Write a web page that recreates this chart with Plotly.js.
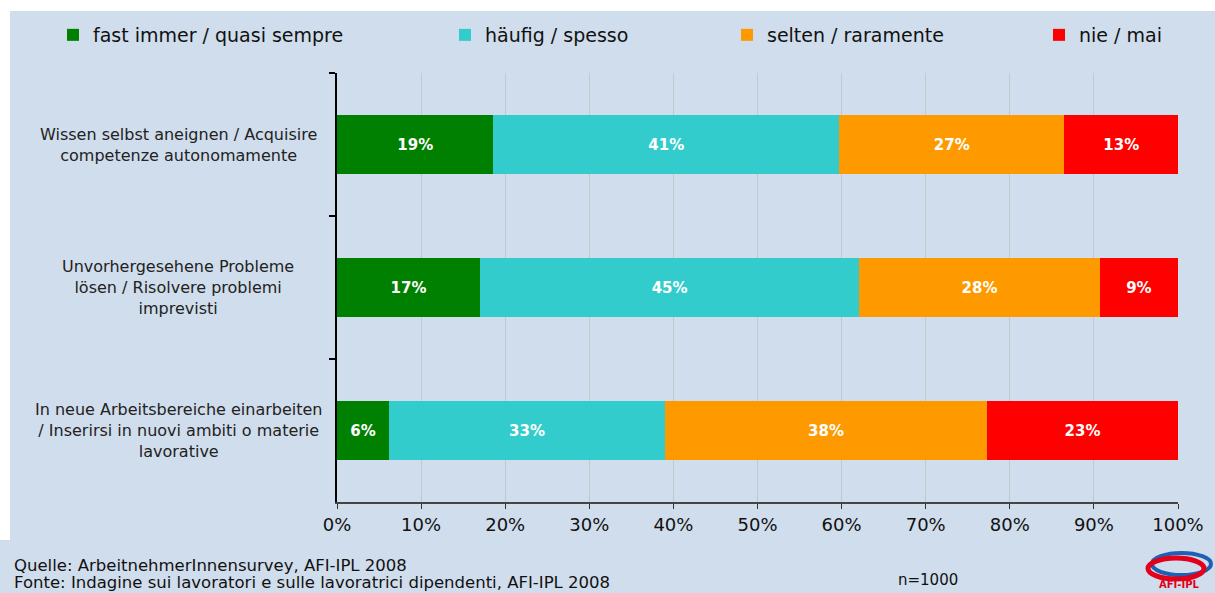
<!DOCTYPE html>
<html>
<head>
<meta charset="utf-8">
<script src="https://cdn.plot.ly/plotly-3.0.1.min.js"></script>
<style>
  html, body { margin: 0; padding: 0; background: #ffffff; }
  #chart { position: absolute; left: 0; top: 11px; width: 1215px; height: 582px; }
</style>
</head>
<body>
<div id="chart"></div>
<script>
// ---- data ----
const categories = [
  "Wissen selbst aneignen / Acquisire<br>competenze autonomamente",
  "Unvorhergesehene Probleme<br>lösen / Risolvere problemi<br>imprevisti",
  "In neue Arbeitsbereiche einarbeiten<br>/ Inserirsi in nuovi ambiti o materie<br>lavorative"
];
const seriesNames = [
  "fast immer / quasi sempre",
  "häufig / spesso",
  "selten / raramente",
  "nie / mai"
];
const fastImmer = [18.6, 17.0, 6.2];
const haeufig   = [41.1, 45.1, 32.8];
const selten    = [26.8, 28.6, 38.3];
const nie       = [13.5, 9.3, 22.7];
const fastImmerLabels = [19, 17, 6];
const haeufigLabels   = [41, 45, 33];
const seltenLabels    = [27, 28, 38];
const nieLabels       = [13, 9, 23];
const xTicks = [0, 10, 20, 30, 40, 50, 60, 70, 80, 90, 100];
const sourceLines = [
  "Quelle: ArbeitnehmerInnensurvey, AFI-IPL 2008",
  "Fonte: Indagine sui lavoratori e sulle lavoratrici dipendenti, AFI-IPL 2008"
];
const sampleNote = "n=1000";
const logoText = "AFI-IPL";

// ---- styles ----
const FONT = "DejaVu Sans, Arial, sans-serif";
const colors = ["#008000", "#33CCCC", "#FF9900", "#FF0000"];
const seriesValues = [fastImmer, haeufig, selten, nie];
const seriesLabels = [fastImmerLabels, haeufigLabels, seltenLabels, nieLabels];
const legendIds = ["legend", "legend2", "legend3", "legend4"];
const legendX = [53, 445, 727, 1039];

const traces = seriesNames.map((name, i) => ({
  type: "bar",
  orientation: "h",
  name: name,
  y: categories,
  x: seriesValues[i],
  text: seriesLabels[i].map(v => v + "%"),
  textposition: "inside",
  insidetextanchor: "middle",
  constraintext: "none",
  textfont: { family: FONT, size: 15, color: "#ffffff", weight: "bold" },
  marker: { color: colors[i], line: { width: 0 } },
  legend: legendIds[i],
  hoverinfo: "x+name"
}));

const annotations = categories.map(c => ({
  xref: "paper", yref: "y",
  x: -0.189, y: c,
  text: c,
  showarrow: false,
  xanchor: "center", yanchor: "middle",
  align: "center",
  font: { family: FONT, size: 16, color: "#222222" }
}));
annotations.push({
  xref: "paper", yref: "paper", x: -0.3865, y: (502 - 565) / 429,
  text: sourceLines[0], showarrow: false, xanchor: "left", yanchor: "middle",
  font: { family: FONT, size: 16.5, color: "#111111" }
});
annotations.push({
  xref: "paper", yref: "paper", x: -0.3865, y: (502 - 582) / 429,
  text: sourceLines[1], showarrow: false, xanchor: "left", yanchor: "middle",
  font: { family: FONT, size: 16.5, color: "#111111" }
});
annotations.push({
  xref: "paper", yref: "paper", x: 0.7027, y: -0.1818,
  text: sampleNote, showarrow: false, xanchor: "center", yanchor: "middle",
  font: { family: FONT, size: 15, color: "#111111" }
});
annotations.push({
  xref: "paper", yref: "paper", x: (1179 - 337) / 841, y: (502 - 584) / 429,
  text: "<b>" + logoText + "</b>", showarrow: false, xanchor: "center", yanchor: "middle",
  font: { family: FONT, size: 10, color: "#E2001A" }
});

const px = v => (v - 337) / 841;
const py = v => (502 - v) / 429;
const shapes = [
  { type: "rect", xref: "paper", yref: "paper", x0: px(-5), x1: px(10), y0: py(540), y1: py(0),
    fillcolor: "#ffffff", line: { width: 0 }, layer: "below" },
  { type: "circle", xref: "paper", yref: "paper", x0: px(1152), x1: px(1211), y0: py(575), y1: py(553),
    line: { color: "#1F5FB4", width: 4 }, fillcolor: "rgba(0,0,0,0)" },
  { type: "circle", xref: "paper", yref: "paper", x0: px(1148), x1: px(1204), y0: py(579), y1: py(558),
    line: { color: "#E2001A", width: 5 }, fillcolor: "rgba(0,0,0,0)" }
];

const legendBase = (x) => ({
  x: x / 1215, xref: "container", xanchor: "left",
  y: 1 - 24 / 582, yref: "container", yanchor: "middle",
  orientation: "h",
  bgcolor: "rgba(0,0,0,0)",
  borderwidth: 0,
  font: { family: FONT, size: 19, color: "#111111" }
});

const layout = {
  width: 1215, height: 582,
  margin: { l: 337, r: 37, t: 62, b: 91, pad: 0 },
  paper_bgcolor: "#D0DDEC",
  plot_bgcolor: "#D0DDEC",
  barmode: "stack",
  bargap: 0.59,
  showlegend: true,
  legend: legendBase(legendX[0]),
  legend2: legendBase(legendX[1]),
  legend3: legendBase(legendX[2]),
  legend4: legendBase(legendX[3]),
  xaxis: {
    range: [0, 100],
    tickvals: xTicks,
    ticktext: xTicks.map(v => v + "%"),
    ticks: "outside", ticklen: 5, tickcolor: "#333333", tickwidth: 1,
    showline: true, linecolor: "#444444", linewidth: 2,
    showgrid: true, gridcolor: "#C4C8CC", gridwidth: 1,
    zeroline: false,
    tickfont: { family: FONT, size: 18, color: "#111111" },
    fixedrange: true
  },
  yaxis: {
    type: "category",
    categoryorder: "array",
    categoryarray: categories,
    autorange: "reversed",
    tickson: "boundaries",
    ticks: "outside", ticklen: 6, tickcolor: "#000000", tickwidth: 2,
    showline: true, linecolor: "#000000", linewidth: 2,
    showgrid: false, zeroline: false,
    showticklabels: false,
    fixedrange: true
  },
  annotations: annotations,
  shapes: shapes
};

Plotly.newPlot("chart", traces, layout, { displayModeBar: false, staticPlot: true });
</script>
</body>
</html>
